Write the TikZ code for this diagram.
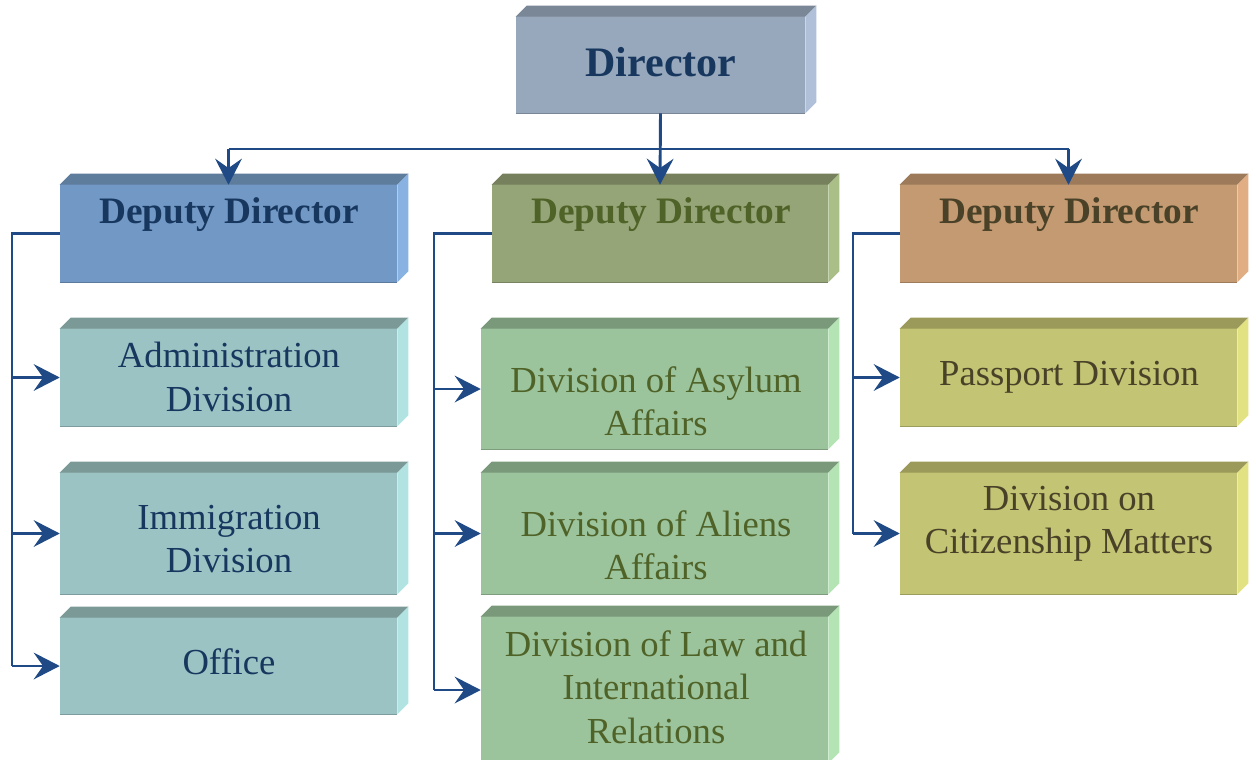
\documentclass[tikz,border=0pt]{standalone}
\usepackage{fontspec}
\setmainfont{Liberation Serif}
\usetikzlibrary{arrows.meta,calc}
\definecolor{dirF}{HTML}{97A8BC}\definecolor{dirT}{HTML}{7A8797}\definecolor{dirS}{HTML}{AFC0D8}
\definecolor{daF}{HTML}{7299C6}\definecolor{daT}{HTML}{5E7C9C}\definecolor{daS}{HTML}{87B2E2}
\definecolor{dbF}{HTML}{95A577}\definecolor{dbT}{HTML}{76805C}\definecolor{dbS}{HTML}{AABE88}
\definecolor{dcF}{HTML}{C49A72}\definecolor{dcT}{HTML}{9D7A5A}\definecolor{dcS}{HTML}{E0AE82}
\definecolor{tF}{HTML}{9CC3C4}\definecolor{tT}{HTML}{7A9997}\definecolor{tS}{HTML}{B2E3E3}
\definecolor{gF}{HTML}{9CC49C}\definecolor{gT}{HTML}{7A997A}\definecolor{gS}{HTML}{B4E3B4}
\definecolor{yF}{HTML}{C3C474}\definecolor{yT}{HTML}{9C9A5A}\definecolor{yS}{HTML}{E2E283}
\definecolor{navy}{HTML}{17375E}\definecolor{olive}{HTML}{4F6228}\definecolor{brownish}{HTML}{4A4228}
\definecolor{conn}{HTML}{1F4A85}
\newcommand\boxthreed[4]{% name, front, top, side
  \fill[#3] (#1.north west) -- ([shift={(11,-11)}]#1.north west) -- ([shift={(11,-11)}]#1.north east) -- (#1.north east) -- cycle;
  \fill[#4] (#1.north east) -- ([shift={(11,-11)}]#1.north east) -- ([shift={(11,-11)}]#1.south east) -- (#1.south east) -- cycle;
  \draw[#3!70!#2, line width=0.8pt] (#1.north west) -- (#1.north east);
  \draw[#2!80!black, line width=0.8pt] (#1.south west) -- (#1.south east);
}
\begin{document}
\begin{tikzpicture}[x=0.75pt,y=-0.75pt,
  front/.style={rectangle, inner sep=0pt, draw=none},
  divtext/.style={align=center, inner sep=0pt, font=\fontsize{27.5}{32.5}\selectfont},
  deptext/.style={align=center, inner sep=0pt, font=\fontsize{28}{32}\selectfont\bfseries},
  conline/.style={draw=conn, line width=2.2pt},
  arr/.style={conline, -{Stealth[length=19.5pt,width=20pt,inset=7pt]}}]
\useasboundingbox (0,0) rectangle (1256,760);
\fill[white] (0,0) rectangle (1256,760);
% box fronts: positioned by corners
\newcommand\frontbox[6]{% name x1 y1 x2 y2 color
  \node[front, fill=#6, minimum width={(#4-#2)*0.75pt}, minimum height={(#5-#3)*0.75pt}] (#1) at ({(#2+#4)/2},{(#3+#5)/2}) {};}
\frontbox{dir}{516}{17}{805}{113}{dirF}
\frontbox{da}{60}{185}{397}{282}{daF}
\frontbox{db}{492}{185}{828}{282}{dbF}
\frontbox{dc}{900}{185}{1237}{282}{dcF}
\frontbox{adm}{60}{329}{397}{426}{tF}
\frontbox{imm}{60}{473}{397}{594}{tF}
\frontbox{off}{60}{618}{397}{714}{tF}
\frontbox{asy}{481}{329}{828}{449}{gF}
\frontbox{ali}{481}{473}{828}{594}{gF}
\frontbox{law}{481}{617}{828}{763}{gF}
\frontbox{pas}{900}{329}{1237}{426}{yF}
\frontbox{cit}{900}{473}{1237}{594}{yF}
\boxthreed{dir}{dirF}{dirT}{dirS}
\boxthreed{da}{daF}{daT}{daS}
\boxthreed{db}{dbF}{dbT}{dbS}
\boxthreed{dc}{dcF}{dcT}{dcS}
\boxthreed{adm}{tF}{tT}{tS}
\boxthreed{imm}{tF}{tT}{tS}
\boxthreed{off}{tF}{tT}{tS}
\boxthreed{asy}{gF}{gT}{gS}
\boxthreed{ali}{gF}{gT}{gS}
\boxthreed{law}{gF}{gT}{gS}
\boxthreed{pas}{yF}{yT}{yS}
\boxthreed{cit}{yF}{yT}{yS}
% texts
\node[inner sep=0pt, font=\fontsize{31.5}{36}\selectfont\bfseries, text=navy] (tdir) at (661,62) {Director};
\node[deptext, text=navy] (tda) at (229,215) {Deputy Director};
\node[deptext, text=olive] (tdb) at (661,215) {Deputy Director};
\node[deptext, text=brownish] (tdc) at (1069,215) {Deputy Director};
\node[divtext, text=navy] (tadm) at (229,377) {Administration\\Division};
\node[divtext, text=navy] (timm) at (229,539) {Immigration\\Division};
\node[divtext, text=navy] (toff) at (229,662) {Office};
\node[divtext, text=olive] (tasy) at (656,401) {Division of Asylum\\Affairs};
\node[divtext, text=olive] (tali) at (656,545) {Division of Aliens\\Affairs};
\node[divtext, text=olive] (tlaw) at (656,687) {Division of Law and\\International\\Relations};
\node[divtext, text=brownish] (tpas) at (1069,377) {Passport Division};
\node[divtext, text=brownish] (tcit) at (1069,524) {Division on\\Citizenship Matters};
% connectors
\coordinate (hub) at (661,149);
\coordinate (ra) at (12,0);
\coordinate (rb) at (434,0);
\coordinate (rc) at (853,0);
\draw[conline] (da.north |- hub) -- (dc.north |- hub);
\draw[arr] (dir.south) -- (db.north);
\draw[arr] (da.north |- hub) -- (da.north);
\draw[arr] (dc.north |- hub) -- (dc.north);
\draw[conline] (da.west) -| (ra |- off.west);
\draw[arr] (ra |- off.west) -- (off.west);
\draw[arr] (ra |- adm.west) -- (adm.west);
\draw[arr] (ra |- imm.west) -- (imm.west);
\draw[conline] (db.west) -| (rb |- law.west);
\draw[arr] (rb |- law.west) -- (law.west);
\draw[arr] (rb |- asy.west) -- (asy.west);
\draw[arr] (rb |- ali.west) -- (ali.west);
\draw[conline] (dc.west) -| (rc |- cit.west);
\draw[arr] (rc |- cit.west) -- (cit.west);
\draw[arr] (rc |- pas.west) -- (pas.west);
\end{tikzpicture}
\end{document}
